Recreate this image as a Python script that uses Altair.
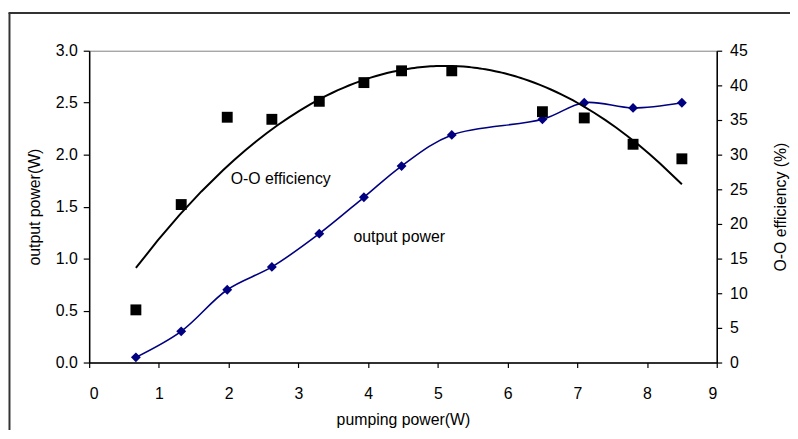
import altair as alt
import pandas as pd

# pumping power (W)
pump = [0.67, 1.32, 1.98, 2.62, 3.30, 3.94, 4.48, 5.20, 6.50, 7.10, 7.80, 8.50]
# output power (W)
out_power = [0.05, 0.30, 0.70, 0.92, 1.24, 1.59, 1.89, 2.19, 2.34, 2.50, 2.45, 2.50]
# O-O efficiency (%)
efficiency = [7.6, 22.8, 35.4, 35.1, 37.7, 40.4, 42.1, 42.1, 36.2, 35.3, 31.5, 29.4]

label_text = ["O-O efficiency", "output power"]
label_x = [2.03, 3.79]
label_y = [1.765, 1.21]

FONT = "Liberation Sans"

pw = pd.DataFrame({"x": pump, "p": out_power})
ef = pd.DataFrame({"x": pump, "eff": efficiency})
lab = pd.DataFrame({"t": label_text, "x": label_x, "y": label_y})
one = pd.DataFrame({"a": [0]})

common = dict(labelFont=FONT, titleFont=FONT, labelFontSize=16, titleFontSize=16,
              titleFontWeight="normal", labelColor="black", titleColor="black",
              domainColor="black", tickColor="black", domainWidth=1.5, tickWidth=1.2,
              grid=False)

xscale = alt.Scale(domain=[0, 9], nice=False)
xaxis = alt.Axis(values=list(range(0, 10)), format="d", title="pumping power(W)",
                 tickSize=5, labelPadding=18, titlePadding=11, **common)
yl_scale = alt.Scale(domain=[0, 3], nice=False)
yl_axis = alt.Axis(values=[0, 0.5, 1.0, 1.5, 2.0, 2.5, 3.0], format=".1f",
                   title="output power(W)", tickSize=6, labelPadding=6,
                   titlePadding=13, **common)
yr_scale = alt.Scale(domain=[0, 45], nice=False)
yr_axis = alt.Axis(values=list(range(0, 50, 5)), format="d", title="O-O efficiency (%)",
                   orient="right", tickSize=5, labelPadding=8, titlePadding=42,
                   titleAngle=270, **common)

blue = "#000080"

line = alt.Chart(pw).mark_line(color=blue, strokeWidth=1.6, interpolate="catmull-rom").encode(
    x=alt.X("x:Q", scale=xscale, axis=xaxis),
    y=alt.Y("p:Q", scale=yl_scale, axis=yl_axis),
)
dia = alt.Chart(pw).mark_point(shape="diamond", filled=True, color=blue, size=100, opacity=1).encode(
    x=alt.X("x:Q", scale=xscale, axis=xaxis),
    y=alt.Y("p:Q", scale=yl_scale, axis=yl_axis),
)
txt = alt.Chart(lab).mark_text(align="left", baseline="middle", font=FONT, fontSize=16,
                               color="black").encode(
    x=alt.X("x:Q", scale=xscale, axis=xaxis),
    y=alt.Y("y:Q", scale=yl_scale, axis=yl_axis),
    text="t:N",
)
frame_left = alt.Chart(one).mark_rule(color="#333333", strokeWidth=2).encode(
    x=alt.value(-80.5), y=alt.value(-38), y2=alt.value(400))
frame_top = alt.Chart(one).mark_rule(color="#333333", strokeWidth=2).encode(
    x=alt.value(-81.5), x2=alt.value(720), y=alt.value(-38))

left = alt.layer(line, dia, txt, frame_left, frame_top)

sq = alt.Chart(ef).mark_point(shape="square", filled=True, color="black", size=121, opacity=1).encode(
    x=alt.X("x:Q", scale=xscale, axis=xaxis),
    y=alt.Y("eff:Q", scale=yr_scale, axis=yr_axis),
)
fit = alt.Chart(ef).transform_regression(
    "x", "eff", method="poly", order=2, extent=[0.67, 8.5]
).mark_line(color="black", strokeWidth=2).encode(
    x=alt.X("x:Q", scale=xscale, axis=xaxis),
    y=alt.Y("eff:Q", scale=yr_scale, axis=yr_axis),
)
right = alt.layer(sq, fit)

chart = alt.layer(left, right).resolve_scale(y="independent").properties(
    width=634, height=315,
    autosize="none",
    background="white",
    padding={"left": 82, "top": 41, "right": 74, "bottom": 66},
).configure_view(stroke="#808080", strokeWidth=1)

chart.save("out.html", embed_options={"renderer": "svg", "actions": False})
